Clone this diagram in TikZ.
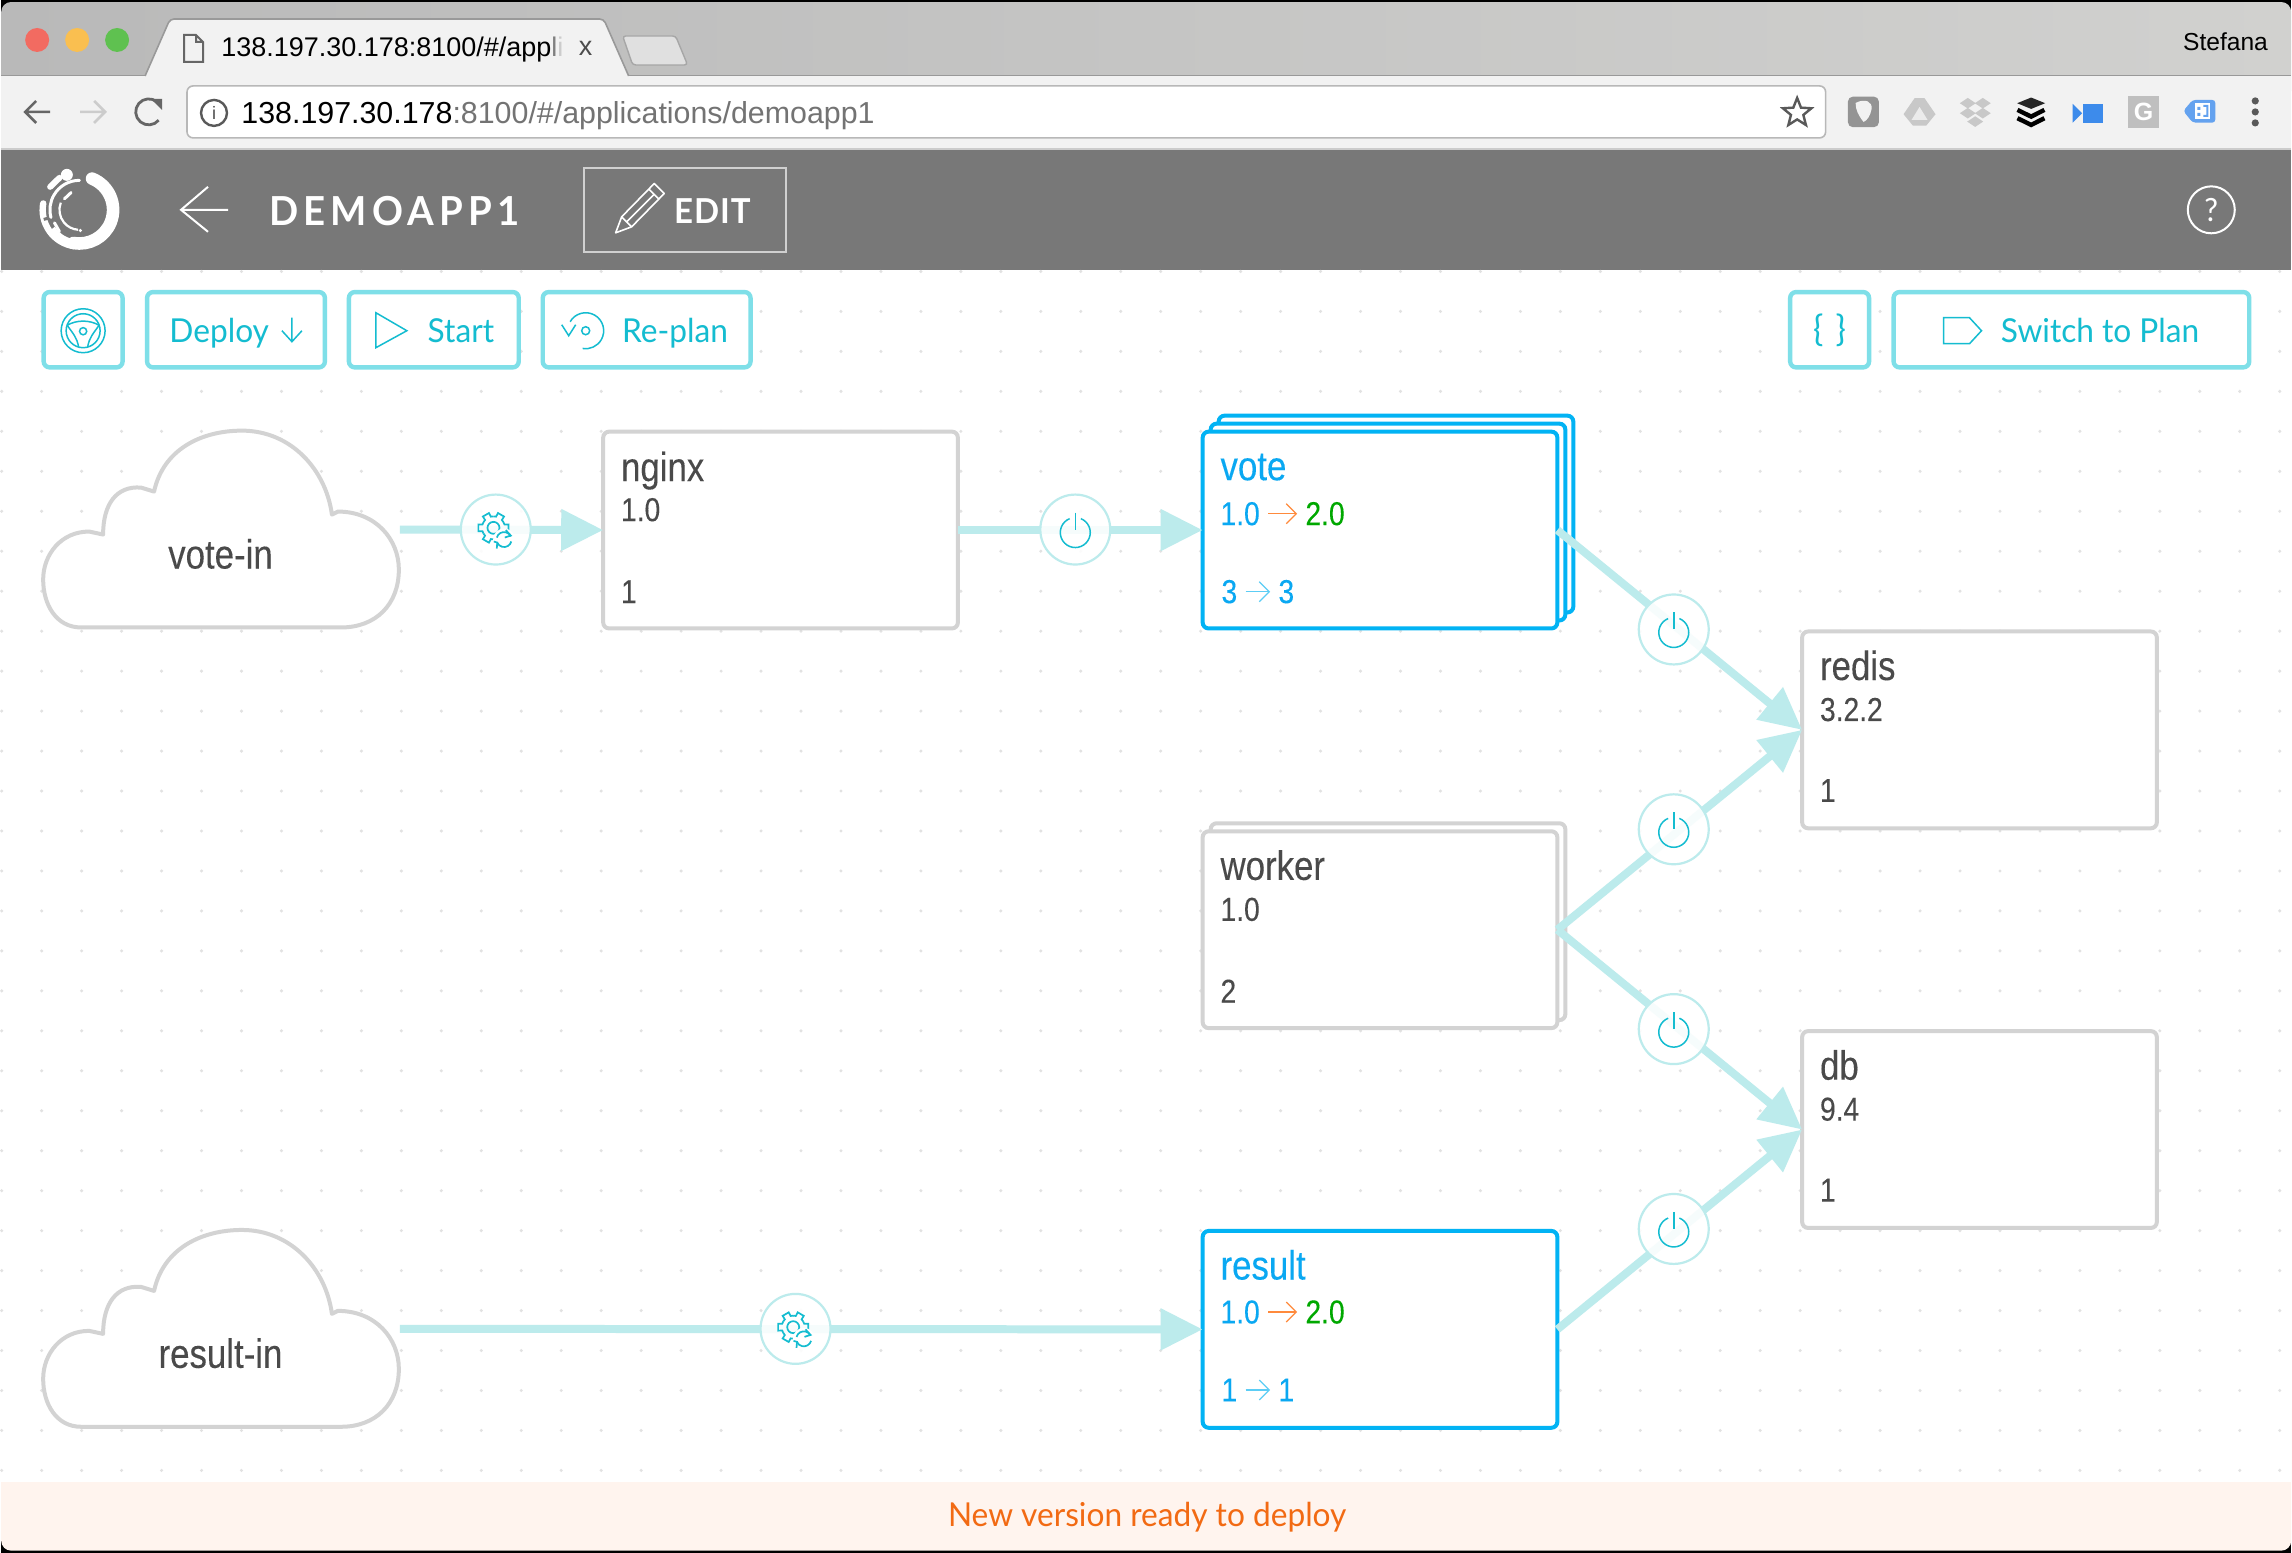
\documentclass[tikz,border=0pt]{standalone}
\usepackage{fontspec}
\setmainfont[FakeStretch=0.96]{Lato}
\newfontfamily\urlfont{Liberation Sans}
\newfontfamily\svcfont[FakeStretch=0.85,FakeBold=0.15]{Liberation Sans}
\usetikzlibrary{arrows.meta,shapes.geometric}
\definecolor{barleft}{HTML}{B9B9B9}
\definecolor{barright}{HTML}{D1D1CF}
\definecolor{toolgray}{HTML}{F2F2F2}
\definecolor{headgray}{HTML}{787878}
\definecolor{footbg}{HTML}{FFF4EE}
\definecolor{footorange}{HTML}{F26A13}
\definecolor{griddot}{HTML}{E2E2E2}
\definecolor{btnline}{HTML}{7FDFE8}
\definecolor{btntext}{HTML}{14BCD0}
\definecolor{connline}{HTML}{BCEBEC}
\definecolor{boxgray}{HTML}{D3D3D3}
\definecolor{boxblue}{HTML}{02B3F4}
\definecolor{txtgray}{HTML}{4A4A4A}
\definecolor{txtblue}{HTML}{0AA8F2}
\definecolor{txtgreen}{HTML}{00A800}
\definecolor{arrorange}{HTML}{FF8A3C}
\definecolor{arrblue}{HTML}{5CCDF5}
\definecolor{extblue}{HTML}{3D8BEB}
\definecolor{extgray}{HTML}{C8C8C8}
\tikzset{
  svcbox/.style={draw=boxgray,fill=white,line width=2pt,rounded corners=3pt,yshift=-.25pt,
    minimum width=177.5pt,minimum height=98.5pt,inner sep=0pt,outer sep=0pt},
  bluebox/.style={svcbox,draw=boxblue},
  cloudbox/.style={minimum width=179pt,minimum height=98pt,inner sep=0pt,outer sep=0pt},
  svcname/.style={anchor=base west,inner sep=0pt,yshift=-.8pt,text=txtgray,font=\svcfont\fontsize{20.5}{22}\selectfont},
  svcsub/.style={anchor=base west,inner sep=0pt,yshift=-.8pt,text=txtgray,font=\svcfont\fontsize{16.6}{18}\selectfont},
  cloudname/.style={anchor=base,inner sep=0pt,yshift=-1.5pt,text=txtgray,font=\svcfont\fontsize{20.5}{22}\selectfont},
  conn/.style={line width=4pt,draw=connline,-{Triangle[length=21pt,width=20pt]}},
  verarrow/.style={line width=.6pt,shorten <=4pt,shorten >=4pt,-{Straight Barb[length=5pt,width=10pt]}},
  badge/.style={circle,draw=connline,line width=1.1pt,fill=white,fill opacity=.88,
    minimum size=35pt,inner sep=0pt,outer sep=0pt},
  iconline/.style={draw=btntext,line width=.75pt},
  btn/.style={draw=btnline,fill=white,line width=2.2pt,rounded corners=3pt,
    minimum height=37.7pt,inner sep=0pt},
  btnlabel/.style={anchor=base west,inner sep=0pt,yshift=-.5pt,text=btntext,font=\fontsize{16.5}{18}\selectfont},
  urltext/.style={anchor=base west,inner sep=0pt,font=\urlfont\fontsize{15.2}{18}\selectfont},
  gearicon/.pic={
    \foreach \a in {0,60,...,300}{
      \draw[iconline,line width=.85pt,shift={(-2.3,-1.7)}] (\a-30:11.5) -- (\a-17:11.5) -- (\a-13:15.5) -- (\a+13:15.5) -- (\a+17:11.5) -- (\a+30:11.5);}
    \draw[iconline,line width=.85pt] (-2.3,-1.7) circle (3pt);
    \fill[white] (8.3,10) circle (5.5pt);
    \draw[iconline,line width=.85pt] (8.3,10)+(-165:7.5) arc[start angle=-165,end angle=-25,radius=7.5];
    \draw[iconline,line width=.85pt] (8.3,10)+(15:7.5) arc[start angle=15,end angle=155,radius=7.5];
    \draw[iconline,line width=.85pt] (10,0.5) -- (15,6) -- (9,8) (-2,12) -- (1.5,13) -- (1,19);
  },
  powericon/.pic={
    \draw[iconline] (0,3)+(-68:15) arc[start angle=-68,end angle=248,radius=15];
    \draw[iconline] (0,-17) -- (0,0);
  },
  cloudicon/.pic={
    \draw[draw=boxgray,fill=white,line width=2pt,line join=round] (-140,98)
      .. controls (-165,98) and (-178,75) .. (-178,50)
      .. controls (-178,25) and (-160,2) .. (-132,2) -- (-118,5)
      .. controls (-118,-25) and (-105,-44) .. (-80,-42) -- (-67,-38)
      .. controls (-58,-80) and (-20,-99) .. (21,-99)
      .. controls (70,-99) and (105,-60) .. (111,-15) -- (117,-18)
      .. controls (155,-18) and (178,10) .. (178,40)
      .. controls (178,75) and (155,98) .. (120,98) -- cycle;
  },
}
\begin{document}
\begin{tikzpicture}[x=.5pt,y=-.5pt]
%window
\fill[black] (0,0) rectangle (2292,1554);
\shade[left color=barleft,middle color=barright,right color=barright,rounded corners=5pt] (0,2) rectangle (2292,100);
\fill[footbg,rounded corners=5pt] (0,1400) rectangle (2292,1552);
\fill[toolgray] (0,76) rectangle (2292,150);
\draw[black!40,line width=.8pt] (0,75.5) -- (2292,75.5);
\draw[black!20,line width=.8pt] (0,149) -- (2292,149);
\fill[headgray] (0,150) rectangle (2292,270);
\fill[white] (0,270) rectangle (2292,1483);

%grid of dots
\foreach \i in {0,...,57}
  \foreach \j in {0,...,30}
    \fill[griddot] (0.5+40*\i,271.7+40*\j) circle (.85pt);

%title bar
\definecolor{lightred}{HTML}{F26B61}
\definecolor{lightyellow}{HTML}{FABF50}
\definecolor{lightgreen}{HTML}{5FC150}
\fill[lightred] (36,40) circle (6pt);
\fill[lightyellow] (76,40) circle (6pt);
\fill[lightgreen] (116,40) circle (6pt);
\path[fill=toolgray,draw=black!40,line width=.8pt,rounded corners=2pt] (144,76) -- (169,19) -- (603,19) -- (628,76);
\draw[black!60,line width=1pt] (183,35) -- (195,35) -- (202,42) -- (202,62) -- (183,62) -- cycle (195,35) -- (195,42) -- (202,42);
\node[anchor=base west,inner sep=0pt,font=\urlfont\fontsize{13.5}{16}\selectfont] (tabtext) at (220,57) {138.197.30.178:8100/\#/app{\color{black!50}l}{\color{black!20}i}};
\node[inner sep=0pt,font=\urlfont\fontsize{13.5}{16}\selectfont,text=black!70] (tabclose) at (585,48) {x};
\draw[black!35,fill=black!12,line width=.7pt,rounded corners=1.5pt] (622,36) -- (675,36) -- (687,65) -- (632,65) -- cycle;
\node[anchor=base east,inner sep=0pt,font=\urlfont\fontsize{12.3}{14}\selectfont] (username) at (2269,51) {Stefana};

%toolbar
\draw[black!60,line width=1.3pt] (49,112) -- (24,112) (35,101) -- (24,112) -- (35,123);
\draw[black!20,line width=1.3pt] (79,112) -- (104,112) (93,101) -- (104,112) -- (93,123);
\draw[black!60,line width=1.4pt] (156,102) arc[start angle=-50,end angle=-320,radius=13];
\fill[black!60] (150,99) -- (161,99) -- (161,110) -- cycle;
\draw[black!28,fill=white,line width=.8pt,rounded corners=3pt] (186,86) rectangle (1826,138);
\node[circle,draw=black!65,line width=1.2pt,minimum size=13pt,inner sep=0pt,font=\urlfont\fontsize{9}{10}\selectfont,text=black!70] (infoicon) at (213,113) {i};
\node[urltext] (urlhost) at (240,124) {138.197.30.178{\color{black!55}:8100/\#/applications/demoapp1}};
\node[star,star points=5,star point ratio=2.3,draw=black!65,line width=1.2pt,minimum size=15pt,inner sep=0pt] (staricon) at (1797.5,113) {};

%extensions
\fill[black!42,rounded corners=2.5pt] (1848.3,96.7) rectangle (1879.3,127.3);
\fill[black!5] (1856,103) .. controls (1866,98) and (1873,102) .. (1872,109) .. controls (1871,116) and (1867,121) .. (1864,122) .. controls (1859,116) and (1856,110) .. (1856,103);
\fill[extgray] (1904,114.3) -- (1915,98.3) -- (1925,98.3) -- (1936,114.3) -- (1926.7,125.7) -- (1913.3,125.7) -- cycle;
\fill[black!8] (1920,107) -- (1928,120) -- (1912,120) -- cycle;
\foreach \cx/\cy in {1968.3/103.3,1983.3/103.3,1968.3/113.3,1983.3/113.3,1975.7/121.7}
  \fill[extgray] (\cx-8,\cy) -- (\cx,\cy-5.3) -- (\cx+8,\cy) -- (\cx,\cy+5.3) -- cycle;
\fill[black!85] (2031.7,97.6) -- (2045.7,103.3) -- (2031.7,109) -- (2017.7,103.3) -- cycle;
\draw[black,line width=2.2pt] (2018,110) -- (2031.7,116.7) -- (2045,110) (2018,118.3) -- (2031.7,125) -- (2045,118.3);
\fill[extblue] (2083.3,104) rectangle (2103.3,122.7);
\fill[extblue] (2073.3,104) -- (2082.7,113.3) -- (2073.3,122.7) -- cycle;
\node[fill=black!25,minimum size=15.8pt,inner sep=0pt,font=\urlfont\bfseries\fontsize{12.5}{14}\selectfont,text=white] (gicon) at (2144.2,112) {G};
\fill[extblue!80!white,rounded corners=1.5pt] (2184,111) -- (2193.3,100) -- (2216,100) -- (2216,122.7) -- (2193.3,122.7) -- cycle;
\fill[white] (2196,103) rectangle (2211,119);
\fill[extblue!80!white] (2198,107) rectangle (2201,110) (2198,113) rectangle (2201,116) (2204,105) rectangle (2209,107) (2207,107) rectangle (2209,115) (2204,115) rectangle (2209,117);
\fill[black!65] (2256,101) circle (1.8pt) (2256,112) circle (1.8pt) (2256,123) circle (1.8pt);

%header
\draw[white,line width=6.3pt,line cap=round] (78.3,210)+(-68:33.7) arc[start angle=-68,end angle=100,radius=33.7];
\draw[white,line width=5pt] (78.3,210)+(98:35) arc[start angle=98,end angle=145,radius=35];
\draw[white,line width=3.2pt,line cap=round] (78.3,210)+(145:36.8) arc[start angle=145,end angle=190,radius=36.8];
\draw[headgray,line width=1.5pt] (78.3,210)+(165:37) -- +(165:29);
\draw[white,line width=3pt,line cap=round] (49,187) -- (58.3,178);
\fill[white] (65.7,175) circle (3pt);
\draw[white,line width=1.5pt,line cap=round] (78.3,210)+(-90:29.5) arc[start angle=-90,end angle=-195,radius=29.5];
\draw[white,line width=1.5pt,line cap=round] (53.3,223) -- (58.3,231.7) (63.3,199) -- (70,192.7);
\draw[white,line width=1.1pt] (78.3,210)+(201:20) arc[start angle=201,end angle=94,radius=20];
\fill[white] (79.3,230.7) circle (.9pt);
\draw[white,line width=1pt] (227,210) -- (180,210) (207,187) -- (180,210) -- (207,232);
\node[anchor=base west,inner sep=0pt,text=white,font=\bfseries\addfontfeatures{LetterSpace=13}\fontsize{20}{24}\selectfont] (appname) at (268,225.5) {DEMOAPP1};
\node[draw=white!65!headgray,line width=1.1pt,minimum width=101pt,minimum height=42pt,inner sep=0pt] (editbtn) at (684.5,210) {};
\draw[white,line width=.8pt,line join=round] (615,233) -- (621,217) -- (653.6,183.7) -- (663.6,193.7) -- (631,227) -- cycle (621,217) -- (631,227) (648,189) -- (658,199) (626,222) -- (653,195);
\node[anchor=base west,inner sep=0pt,text=white,font=\bfseries\addfontfeatures{LetterSpace=3}\fontsize{17.2}{18}\selectfont] (edittext) at (673,223.5) {EDIT};
\node[circle,draw=white,line width=1pt,minimum size=23.5pt,inner sep=0pt,text=white,font=\fontsize{16}{17}\selectfont] (helpicon) at (2212,210) {?};

%buttons
\node[btn,minimum width=39.5pt] (wheelbtn) at (82,330) {};
\draw[iconline] (82,331) circle (11pt) (82,331) circle (8.5pt) (82,331.5) circle (1.8pt);
\draw[iconline] (66,325.5) .. controls (76,320) and (88,320) .. (98,325.5) (66,325.5) .. controls (72,334) and (76,338) .. (77.5,347.5) (98,325.5) .. controls (92,334) and (88,338) .. (86.5,347.5);
\node[btn,minimum width=89pt] (deploybtn) at (235,330) {};
\node[btnlabel] (deploytext) at (168,342) {Deploy};
\draw[iconline] (291,318) -- (291,342) (281,331) -- (291,342) -- (301,331);
\node[btn,minimum width=85pt] (startbtn) at (433,330) {};
\draw[iconline] (375,313) -- (406,331) -- (375,348) -- cycle;
\node[btnlabel] (starttext) at (426.5,342) {Start};
\node[btn,minimum width=104pt] (replanbtn) at (646,330) {};
\draw[iconline] (585,331)+(-150:18) arc[start angle=-150,end angle=100,radius=18];
\draw[iconline] (561,325) -- (568,336) -- (575,325) (585,331) circle (2pt);
\node[btnlabel] (replantext) at (621,342) {Re-plan};
\node[btn,minimum width=39.5pt] (jsonbtn) at (1830,330) {};
\node[btnlabel,anchor=center,font=\fontsize{18}{20}\selectfont] (jsontext) at (1830,330) {\{\,\,\}};
\node[btn,minimum width=178pt] (planbtn) at (2072,330) {};
\draw[iconline] (1944,318) -- (1970,318) -- (1982,331) -- (1970,344) -- (1944,344) -- cycle;
\node[btnlabel] (plantext) at (2001,342) {Switch to Plan};

%clouds
\pic at (220,530) {cloudicon};
\node[cloudbox] (votein) at (220,530) {};
\node[cloudname] (voteinname) at (219.5,566) {vote-in};
\pic at (220,1330) {cloudicon};
\node[cloudbox] (resultin) at (220,1330) {};
\node[cloudname] (resultinname) at (219.5,1366) {result-in};

%services
\node[svcbox] (nginx) at (780,530) {};
\node[svcname] (nginxname) at (620,480) {nginx};
\node[svcsub] (nginxver) at (620,520) {1.0};
\node[svcsub] (nginxcount) at (620,602) {1};

\node[bluebox] (voteback) at (1396,514) {};
\node[bluebox] (votemid) at (1388,522) {};
\node[bluebox] (vote) at (1380,530) {};
\node[svcname,text=txtblue] (votename) at (1220,479) {vote};
\node[svcsub,text=txtblue] (voteold) at (1220,524) {1.0};
\node[svcsub,text=txtgreen] (votenew) at (1305,524) {2.0};
\draw[verarrow,draw=arrorange] (voteold.east) -- (votenew.west);
\node[svcsub,text=txtblue] (voteoldcount) at (1221,602) {3};
\node[svcsub,text=txtblue] (votenewcount) at (1278,602) {3};
\draw[verarrow,draw=arrblue] (voteoldcount.east) -- (votenewcount.west);

\node[svcbox] (workerback) at (1388,922) {};
\node[svcbox] (worker) at (1380,930) {};
\node[svcname] (workername) at (1220,879) {worker};
\node[svcsub] (workerver) at (1220,920) {1.0};
\node[svcsub] (workercount) at (1220,1002) {2};

\node[svcbox] (redis) at (1980,730) {};
\node[svcname] (redisname) at (1820,679) {redis};
\node[svcsub] (redisver) at (1820,720) {3.2.2};
\node[svcsub] (rediscount) at (1820,801) {1};

\node[svcbox] (db) at (1980,1130) {};
\node[svcname] (dbname) at (1820,1079) {db};
\node[svcsub] (dbver) at (1820,1120) {9.4};
\node[svcsub] (dbcount) at (1820,1201) {1};

\node[bluebox] (result) at (1380,1330) {};
\node[svcname,text=txtblue] (resultname) at (1220,1279) {result};
\node[svcsub,text=txtblue] (resultold) at (1220,1323) {1.0};
\node[svcsub,text=txtgreen] (resultnew) at (1305,1323) {2.0};
\draw[verarrow,draw=arrorange] (resultold.east) -- (resultnew.west);
\node[svcsub,text=txtblue] (resultoldcount) at (1221,1401) {1};
\node[svcsub,text=txtblue] (resultnewcount) at (1278,1401) {1};
\draw[verarrow,draw=arrblue] (resultoldcount.east) -- (resultnewcount.west);

%connectors
\draw[conn] (votein.east) -- (nginx.west);
\draw[conn] (nginx.east) -- (vote.west);
\draw[conn] (vote.east) -- (redis.west);
\draw[conn] (worker.east) -- (redis.west);
\draw[conn] (worker.east) -- (db.west);
\draw[conn] (result.east) -- (db.west);
\draw[conn] (resultin.east) -- (result.west);

%badges
\node[badge] (gearone) at (495,530) {};
\pic at (gearone) {gearicon};
\node[badge] (powone) at (1075,530) {};
\pic at (powone) {powericon};
\node[badge] (powtwo) at (1674,630) {};
\pic at (powtwo) {powericon};
\node[badge] (powthree) at (1674,830) {};
\pic at (powthree) {powericon};
\node[badge] (powfour) at (1674,1030) {};
\pic at (powfour) {powericon};
\node[badge] (powfive) at (1674,1230) {};
\pic at (powfive) {powericon};
\node[badge] (geartwo) at (795,1330) {};
\pic at (geartwo) {gearicon};

%footer
\node[anchor=base,inner sep=0pt,text=footorange,font=\fontsize{16.5}{18}\selectfont] (footertext) at (1147,1528) {New version ready to deploy};
\end{tikzpicture}
\end{document}
